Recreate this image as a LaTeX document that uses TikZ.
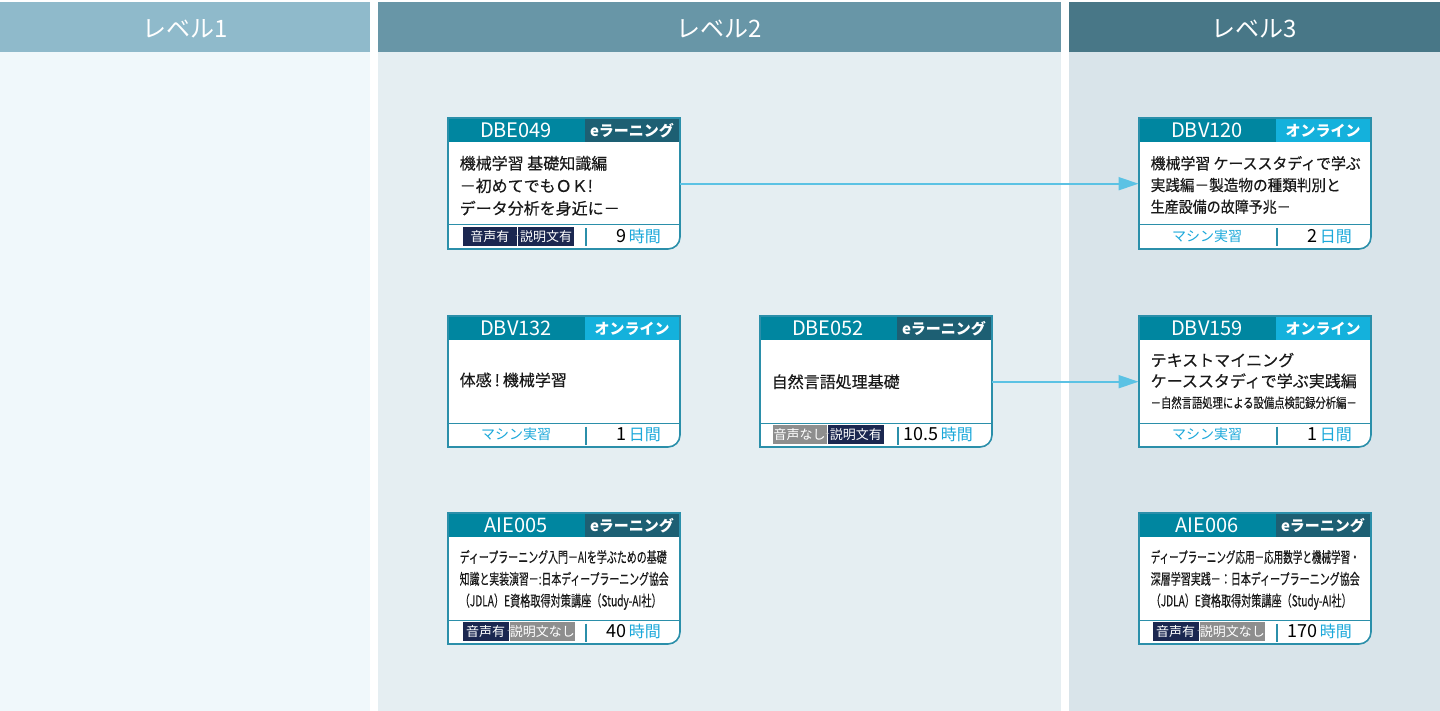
\documentclass[tikz,border=0pt]{standalone}
\usepackage{fontspec}
\setmainfont{Noto Sans CJK JP}
\newfontfamily\bodyjp{Noto Sans CJK JP}[FakeBold=0.35]
\usepackage{graphicx}
\usetikzlibrary{arrows.meta}
\definecolor{lvah}{HTML}{8FBACB}
\definecolor{lvab}{HTML}{F0F8FB}
\definecolor{lvbh}{HTML}{6896A7}
\definecolor{lvbb}{HTML}{E5EEF2}
\definecolor{lvch}{HTML}{487787}
\definecolor{lvcb}{HTML}{D9E4EA}
\definecolor{cteal}{HTML}{0086A0}
\definecolor{cborder}{HTML}{2B8FAA}
\definecolor{etag}{HTML}{1D5F73}
\definecolor{otag}{HTML}{14B1DC}
\definecolor{navyb}{HTML}{1B2750}
\definecolor{grayb}{HTML}{8E8E8E}
\definecolor{cyant}{HTML}{1BA8DA}
\definecolor{arrowc}{HTML}{5BC2E4}
\newcommand\fitw[2]{\resizebox{#1pt}{\height}{#2}}
\newcommand\fsz[1]{\fontsize{#1}{#1}\selectfont}
\newcommand\fszb[2]{\fontsize{#1}{#2}\selectfont}
\newcommand\bodyfont{\fszb{16}{22.5}}
\newcommand\tmx[2]{{\fsz{18}#1}\hspace{2.5pt}{\color{cyant}\fsz{16}#2}}
\tikzset{
 codetext/.style={text=white, font=\fsz{20}, inner sep=0pt},
 tagtext/.style={text=white, font=\fsz{15}\bfseries, inner sep=0pt},
 bodytext/.style={inner sep=0pt, align=left, anchor=west, text=black!90, font=\bodyjp\bodyfont},
 badge/.style={inner xsep=0pt, inner ysep=0pt, minimum height=19pt, text=white, font=\fsz{13}, anchor=west},
 plusmark/.style={inner sep=0pt, text=white!70!gray, font=\fsz{7}},
 timetext/.style={inner sep=0pt, anchor=east},
 onltext/.style={inner sep=0pt, text=cyant, font=\fsz{14}},
 lvtext/.style={text=white, font=\fsz{24}, inner sep=0pt},
 conn/.style={draw=arrowc, line width=2pt, shorten >=0.5pt, -{Triangle[length=20pt,width=13pt]}},
}
% name, x1, w1, col1, txt1, w2, col2, txt2
\newcommand\fbadges[8]{%
 \node[badge, fill=#4, minimum width=#3pt] (#1-b1) at (#2,118.4) {#5};
 \node[badge, fill=#7, minimum width=#6pt] (#1-b2) at ([xshift=1pt]#1-b1.east) {#8};
 \node[plusmark] (#1-plus) at ([xshift=0.5pt]#1-b1.east) {+};
}
% name, x, y, code, tagcolor, tagtext, body, footer, bodyy
\newcommand\mkcard[9]{%
 \begin{scope}[shift={(#2,#3)}]
  \fill[white] (0,0) -- (232,0) -- (232,119) arc[start angle=0,end angle=-90,radius=12pt] -- (0,131) -- cycle;
  \fill[cteal] (0,0) rectangle (232,24);
  \fill[#5] (137,1) rectangle (231,24);
  \node[codetext] (#1-code) at (68,12.5) {#4};
  \node[tagtext] (#1-tag) at (184,12.5) {#6};
  \draw[cborder, line width=1pt] (0,107) -- (232,107);
  \draw[cborder, line width=1.2pt] (138,110.5) -- (138,128.5);
  \node[bodytext] (#1-body) at (11.5,#9) {#7};
  #8
  \draw[cborder, line width=1.6pt] (0,0) -- (232,0) -- (232,119) arc[start angle=0,end angle=-90,radius=12pt] -- (0,131) -- cycle;
  \node[inner sep=0pt, minimum width=232pt, minimum height=131pt, anchor=north west] (#1) at (0,0) {};
 \end{scope}}
\begin{document}
\begin{tikzpicture}[x=1pt,y=-1pt]
\useasboundingbox (0,0) rectangle (1440,711);
\fill[white] (0,0) rectangle (1440,711);
% columns
\fill[lvah] (0,2) rectangle (370,52);
\fill[lvab] (0,52) rectangle (370,711);
\fill[lvbh] (378,2) rectangle (1061,52);
\fill[lvbb] (378,52) rectangle (1061,711);
\fill[lvch] (1069,2) rectangle (1440,52);
\fill[lvcb] (1069,52) rectangle (1440,711);
\node[lvtext] (lv1) at (185,28.5) {レベル1};
\node[lvtext] (lv2) at (719.5,28.5) {レベル2};
\node[lvtext] (lv3) at (1254.5,28.5) {レベル3};
% cards
\renewcommand\bodyfont{\fszb{16}{22.5}}
\mkcard{DBE049}{448}{118}{DBE049}{etag}{eラーニング}
 {機械学習 基礎知識編\\－初めてでもＯＫ!\\データ分析を身近に－}
 {\fbadges{DBE049}{14.7}{54}{navyb}{音声有}{55.4}{navyb}{説明文有}
  \node[timetext] (DBE049-time) at (213,118.5) {\tmx{9}{時間}};}
 {67.8}
\renewcommand\bodyfont{\fszb{16}{22}}
\mkcard{DBV132}{448}{316}{DBV132}{otag}{オンライン}
 {体感\hspace{3pt}!\hspace{3pt}機械学習}
 {\node[onltext] (DBV132-type) at (68,118.5) {マシン実習};
  \node[timetext] (DBV132-time) at (213,118.5) {\tmx{1}{日間}};}
 {64}
\renewcommand\bodyfont{\fszb{15}{21.8}}
\mkcard{AIE005}{448}{513}{AIE005}{etag}{eラーニング}
 {\fitw{207}{ディープラーニング入門－AIを学ぶための基礎}\\\fitw{209}{知識と実装演習－:日本ディープラーニング協会}\\\fitw{202}{（JDLA）E資格取得対策講座（Study-AI社）}}
 {\fbadges{AIE005}{14.7}{45.6}{navyb}{音声有}{63.4}{grayb}{説明文なし}
  \node[timetext] (AIE005-time) at (213,118.5) {\tmx{40}{時間}};}
 {66.9}
\renewcommand\bodyfont{\fszb{16}{22}}
\mkcard{DBE052}{760}{316}{DBE052}{etag}{eラーニング}
 {自然言語処理基礎}
 {\fbadges{DBE052}{12.3}{54.4}{grayb}{音声なし}{55.3}{navyb}{説明文有}
  \node[timetext] (DBE052-time) at (213,118.5) {\tmx{10.5}{時間}};}
 {65.7}
\renewcommand\bodyfont{\fszb{15.5}{21.7}}
\mkcard{DBV120}{1139}{118}{DBV120}{otag}{オンライン}
 {\fitw{210}{機械学習 ケーススタディで学ぶ}\\\fitw{190}{実践編－製造物の種類判別と}\\\fitw{140}{生産設備の故障予兆－}}
 {\node[onltext] (DBV120-type) at (68,118.5) {マシン実習};
  \node[timetext] (DBV120-time) at (213,118.5) {\tmx{2}{日間}};}
 {67}
\renewcommand\bodyfont{\fszb{16}{20.8}}
\mkcard{DBV159}{1139}{316}{DBV159}{otag}{オンライン}
 {テキストマイニング\\ケーススタディで学ぶ実践編\\{\fsz{13.5}\fitw{206}{－自然言語処理による設備点検記録分析編－}}}
 {\node[onltext] (DBV159-type) at (68,118.5) {マシン実習};
  \node[timetext] (DBV159-time) at (213,118.5) {\tmx{1}{日間}};}
 {64.9}
\renewcommand\bodyfont{\fszb{15}{21.8}}
\mkcard{AIE006}{1139}{513}{AIE006}{etag}{eラーニング}
 {\fitw{209}{ディープラーニング応用－応用数学と機械学習・}\\\fitw{209}{深層学習実践－：日本ディープラーニング協会}\\\fitw{201}{（JDLA）E資格取得対策講座（Study-AI社）}}
 {\fbadges{AIE006}{13.7}{45.6}{navyb}{音声有}{63.4}{grayb}{説明文なし}
  \node[timetext] (AIE006-time) at (213,118.5) {\tmx{170}{時間}};}
 {66.9}
% connectors
\draw[conn] (DBE049.east) -- (DBV120.west);
\draw[conn] (DBE052.east) -- (DBV159.west);
\end{tikzpicture}
\end{document}
